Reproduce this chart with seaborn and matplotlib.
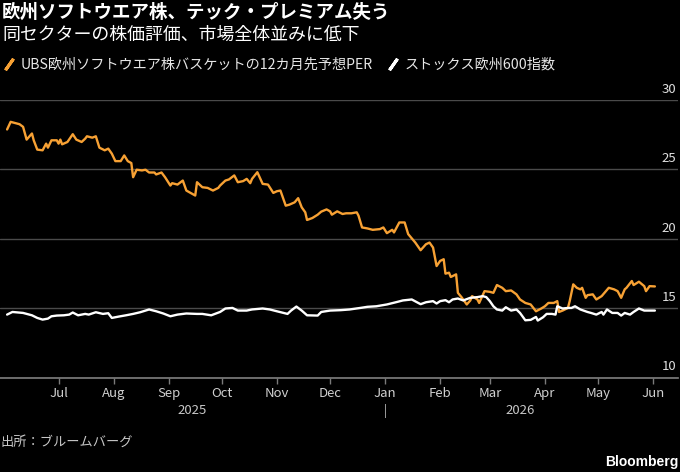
import pandas as pd
import matplotlib.pyplot as plt
import matplotlib.dates as mdates
import matplotlib.transforms as mtransforms
from matplotlib.lines import Line2D
import seaborn as sns

# UBS European software basket, 12-month forward P/E
per_dates = [
    "2025-06-02", "2025-06-04", "2025-06-06", "2025-06-09", "2025-06-11", "2025-06-13",
    "2025-06-16", "2025-06-17", "2025-06-19", "2025-06-22", "2025-06-24", "2025-06-25",
    "2025-06-27", "2025-06-30", "2025-07-01", "2025-07-02", "2025-07-03", "2025-07-06",
    "2025-07-09", "2025-07-11", "2025-07-14", "2025-07-16", "2025-07-17", "2025-07-20",
    "2025-07-22", "2025-07-24", "2025-07-27", "2025-07-29", "2025-07-31", "2025-08-02",
    "2025-08-05", "2025-08-07", "2025-08-09", "2025-08-11", "2025-08-12", "2025-08-14",
    "2025-08-17", "2025-08-19", "2025-08-21", "2025-08-24", "2025-08-25", "2025-08-28",
    "2025-08-30", "2025-09-02", "2025-09-03", "2025-09-06", "2025-09-09", "2025-09-11",
    "2025-09-16", "2025-09-17", "2025-09-20", "2025-09-23", "2025-09-26", "2025-09-29",
    "2025-09-30", "2025-10-03", "2025-10-05", "2025-10-08", "2025-10-10", "2025-10-13",
    "2025-10-15", "2025-10-17", "2025-10-18", "2025-10-21", "2025-10-24", "2025-10-27",
    "2025-10-30", "2025-11-01", "2025-11-03", "2025-11-06", "2025-11-08", "2025-11-11",
    "2025-11-13", "2025-11-15", "2025-11-17", "2025-11-18", "2025-11-21", "2025-11-24",
    "2025-11-26", "2025-11-29", "2025-12-01", "2025-12-02", "2025-12-05", "2025-12-08",
    "2025-12-10", "2025-12-13", "2025-12-16", "2025-12-17", "2025-12-19", "2025-12-22",
    "2025-12-25", "2025-12-29", "2025-12-31", "2026-01-02", "2026-01-05", "2026-01-06",
    "2026-01-08", "2026-01-09", "2026-01-12", "2026-01-14", "2026-01-18", "2026-01-21",
    "2026-01-24", "2026-01-26", "2026-01-28", "2026-01-30", "2026-02-01", "2026-02-03",
    "2026-02-04", "2026-02-06", "2026-02-07", "2026-02-10", "2026-02-11", "2026-02-13",
    "2026-02-16", "2026-02-18", "2026-02-19", "2026-02-22", "2026-02-23", "2026-02-26",
    "2026-03-01", "2026-03-03", "2026-03-05", "2026-03-08", "2026-03-10", "2026-03-13",
    "2026-03-16", "2026-03-18", "2026-03-21", "2026-03-24", "2026-03-27", "2026-03-30",
    "2026-04-01", "2026-04-03", "2026-04-06", "2026-04-08", "2026-04-09", "2026-04-11",
    "2026-04-14", "2026-04-15", "2026-04-17", "2026-04-19", "2026-04-21", "2026-04-22",
    "2026-04-24", "2026-04-25", "2026-04-28", "2026-04-30", "2026-05-03", "2026-05-07",
    "2026-05-10", "2026-05-12", "2026-05-14", "2026-05-16", "2026-05-17", "2026-05-20",
    "2026-05-21", "2026-05-24", "2026-05-27", "2026-05-28", "2026-05-30", "2026-06-02",
]
per_values = [
    27.88, 28.43, 28.36, 28.26, 28.07, 27.15,
    27.59, 27.10, 26.43, 26.38, 26.86, 26.57,
    27.10, 27.10, 26.86, 27.15, 26.81, 26.98,
    27.54, 27.15, 26.98, 27.22, 27.39, 27.29,
    27.39, 26.57, 26.38, 26.50, 26.14, 25.60,
    25.60, 26.01, 25.60, 25.46, 24.44, 24.98,
    24.93, 24.98, 24.78, 24.78, 24.64, 24.78,
    24.44, 23.84, 24.01, 23.91, 24.20, 23.48,
    23.12, 24.08, 23.72, 23.67, 23.48, 23.67,
    23.84, 24.20, 24.28, 24.57, 24.08, 24.16,
    24.32, 24.01, 24.32, 24.80, 23.96, 23.91,
    23.31, 23.43, 23.48, 22.39, 22.46, 22.63,
    22.93, 22.27, 21.91, 21.36, 21.50, 21.74,
    21.96, 22.12, 21.98, 21.74, 21.98, 21.79,
    21.84, 21.84, 21.91, 21.67, 20.82, 20.75,
    20.65, 20.70, 20.82, 20.41, 20.65, 20.46,
    20.94, 21.18, 21.18, 20.34, 19.73, 19.18,
    19.61, 19.73, 19.37, 18.04, 18.41, 18.53,
    17.49, 17.56, 17.25, 17.44, 16.11, 15.80,
    15.27, 15.56, 15.87, 15.63, 15.38, 16.23,
    16.18, 16.11, 16.67, 16.47, 16.23, 16.28,
    16.00, 15.63, 15.38, 15.27, 14.78, 14.98,
    15.14, 15.38, 15.38, 15.51, 14.73, 14.83,
    15.02, 15.51, 16.72, 16.47, 16.36, 16.47,
    15.75, 15.94, 16.00, 15.63, 15.87, 16.47,
    16.36, 16.23, 15.75, 16.36, 16.47, 16.96,
    16.67, 16.91, 16.59, 16.23, 16.59, 16.57,
]

# STOXX Europe 600, 12-month forward P/E
stoxx_dates = [
    "2025-06-02", "2025-06-05", "2025-06-11", "2025-06-16", "2025-06-19", "2025-06-22",
    "2025-06-25", "2025-06-27", "2025-06-30", "2025-07-04", "2025-07-07", "2025-07-09",
    "2025-07-12", "2025-07-16", "2025-07-18", "2025-07-22", "2025-07-26", "2025-07-29",
    "2025-07-31", "2025-08-04", "2025-08-08", "2025-08-12", "2025-08-16", "2025-08-21",
    "2025-08-25", "2025-08-29", "2025-09-02", "2025-09-06", "2025-09-11", "2025-09-17",
    "2025-09-20", "2025-09-25", "2025-09-30", "2025-10-03", "2025-10-07", "2025-10-10",
    "2025-10-15", "2025-10-18", "2025-10-24", "2025-10-28", "2025-11-01", "2025-11-07",
    "2025-11-09", "2025-11-12", "2025-11-15", "2025-11-18", "2025-11-24", "2025-11-26",
    "2025-12-01", "2025-12-07", "2025-12-12", "2025-12-18", "2025-12-22", "2025-12-27",
    "2026-01-02", "2026-01-08", "2026-01-11", "2026-01-16", "2026-01-21", "2026-01-24",
    "2026-01-28", "2026-01-30", "2026-02-01", "2026-02-04", "2026-02-06", "2026-02-08",
    "2026-02-11", "2026-02-14", "2026-02-18", "2026-02-22", "2026-02-25", "2026-02-27",
    "2026-03-01", "2026-03-03", "2026-03-05", "2026-03-08", "2026-03-10", "2026-03-13",
    "2026-03-16", "2026-03-18", "2026-03-21", "2026-03-24", "2026-03-27", "2026-03-28",
    "2026-03-31", "2026-04-02", "2026-04-05", "2026-04-07", "2026-04-08", "2026-04-11",
    "2026-04-14", "2026-04-16", "2026-04-18", "2026-04-21", "2026-04-25", "2026-04-27",
    "2026-04-30", "2026-05-03", "2026-05-04", "2026-05-06", "2026-05-09", "2026-05-12",
    "2026-05-14", "2026-05-16", "2026-05-19", "2026-05-21", "2026-05-24", "2026-05-27",
    "2026-05-30", "2026-06-02",
]
stoxx_values = [
    14.54, 14.73, 14.66, 14.49, 14.30, 14.18,
    14.25, 14.42, 14.47, 14.49, 14.54, 14.69,
    14.49, 14.59, 14.54, 14.71, 14.59, 14.64,
    14.30, 14.40, 14.49, 14.59, 14.71, 14.91,
    14.78, 14.62, 14.42, 14.54, 14.62, 14.59,
    14.59, 14.49, 14.73, 14.98, 15.02, 14.83,
    14.83, 14.91, 14.98, 14.91, 14.78, 14.59,
    14.83, 15.12, 14.83, 14.49, 14.47, 14.73,
    14.83, 14.86, 14.91, 15.02, 15.10, 15.14,
    15.27, 15.46, 15.56, 15.63, 15.29, 15.43,
    15.51, 15.34, 15.51, 15.58, 15.43, 15.63,
    15.70, 15.56, 15.75, 15.80, 15.87, 15.80,
    15.51, 15.14, 14.91, 14.83, 15.07, 14.83,
    14.91, 14.66, 14.13, 14.16, 14.37, 14.11,
    14.35, 14.59, 14.59, 14.54, 15.14, 14.98,
    15.02, 15.02, 15.14, 14.91, 14.73, 14.66,
    14.54, 14.73, 14.54, 14.91, 14.66, 14.66,
    14.47, 14.66, 14.54, 14.73, 14.98, 14.83,
    14.83, 14.83,
]

series_labels = ["UBS欧州ソフトウエア株バスケットの12カ月先予想PER", "ストックス欧州600指数"]
series_colors = ["#f7a134", "#ffffff"]
y_ticks = [10, 15, 20, 25, 30]
month_ticks = pd.date_range("2025-07-01", "2026-06-01", freq="MS")

title = "欧州ソフトウエア株、テック・プレミアム失う"
subtitle = "同セクターの株価評価、市場全体並みに低下"
source = "出所：ブルームバーグ"

per = pd.DataFrame({"date": pd.to_datetime(per_dates), "value": per_values})
stoxx = pd.DataFrame({"date": pd.to_datetime(stoxx_dates), "value": stoxx_values})

sns.set_theme(style="dark", rc={
    "figure.facecolor": "black",
    "axes.facecolor": "black",
    "axes.edgecolor": "#7a7a7a",
    "grid.color": "#4a4a4a",
    "text.color": "#e6e6e6",
    "xtick.color": "#7a7a7a",
    "xtick.labelcolor": "#d0d0d0",
})
plt.rcParams["font.family"] = ["Noto Sans CJK JP", "DejaVu Sans"]

fig = plt.figure(figsize=(6.8, 4.72), dpi=100)
ax = fig.add_axes([0.0, 0.2, 0.997, 0.588])

sns.lineplot(data=per, x="date", y="value", ax=ax, color=series_colors[0], linewidth=1.7)
sns.lineplot(data=stoxx, x="date", y="value", ax=ax, color=series_colors[1], linewidth=1.7)

x_left = pd.Timestamp("2025-05-29")
x_right = pd.Timestamp("2026-06-15")
ax.set_xlim(x_left, x_right)
ax.set_ylim(10, 30)
ax.set_xlabel("")
ax.set_ylabel("")

# horizontal gridlines, labels sit above them at the right edge
ax.set_yticks(y_ticks)
ax.tick_params(axis="y", left=False, labelleft=False)
ax.grid(axis="y", color="#4a4a4a", linewidth=1)
ax.grid(axis="x", visible=False)
ytrans = mtransforms.blended_transform_factory(ax.transAxes, ax.transData)
for v in y_ticks:
    ax.annotate(str(v), xy=(1, v), xycoords=ytrans, xytext=(-1, 3),
                textcoords="offset points", ha="right", va="bottom",
                fontsize=9.5, color="#e0e0e0")

ax.set_xticks(month_ticks)
ax.xaxis.set_major_formatter(mdates.DateFormatter("%b"))
ax.tick_params(axis="x", bottom=True, length=4.5, width=1, pad=2, labelsize=9.5)

for side in ["top", "left", "right"]:
    ax.spines[side].set_visible(False)
ax.spines["bottom"].set_color("#7a7a7a")

# year labels under the months
xtrans = mtransforms.blended_transform_factory(ax.transData, ax.transAxes)
jan = pd.Timestamp("2026-01-01")
ax.text(x_left + (jan - x_left) / 2, -0.12, "2025", transform=xtrans,
        ha="center", va="center", fontsize=9.5, color="#c8c8c8")
ax.text(jan + (per["date"].max() - jan) / 2, -0.12, "2026", transform=xtrans,
        ha="center", va="center", fontsize=9.5, color="#c8c8c8")
ax.text(jan, -0.12, "|", transform=xtrans, ha="center", va="center",
        fontsize=9, color="#c8c8c8")

fig.text(0.003, 1 - 12.5 / 472, title, fontsize=13.3, fontweight="bold",
         color="white", va="center")
fig.text(0.003, 1 - 34.5 / 472, subtitle, fontsize=12.9, color="white", va="center")

handles = [Line2D([], [], linestyle="none", marker=(2, 2, -35), markersize=10,
                  markeredgewidth=2.2, markeredgecolor=c) for c in series_colors]
fig.legend(handles, series_labels, loc="center left", bbox_to_anchor=(-0.005, 1 - 64.5 / 472),
           ncol=2, frameon=False, fontsize=10.2, handlelength=1.0, handletextpad=0.3,
           columnspacing=0.9, labelcolor="#e6e6e6", borderaxespad=0)

fig.text(0.0, 1 - 442 / 472, source, fontsize=9.5, color="#c8c8c8", va="center")
fig.text(0.998, 1 - 462 / 472, "Bloomberg", fontsize=10, fontweight="bold",
         color="white", va="center", ha="right", family=["Liberation Sans", "DejaVu Sans"])

fig.savefig("out.png", dpi=100, facecolor="black")
